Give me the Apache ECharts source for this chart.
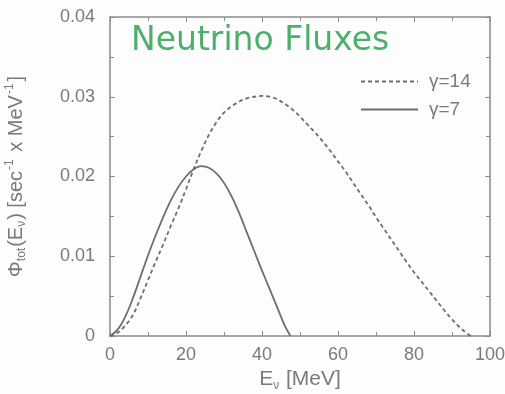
<!DOCTYPE html>
<html>
<head>
<meta charset="utf-8">
<script src="https://cdn.jsdelivr.net/npm/echarts@6/dist/echarts.min.js"></script>
<style>
  html, body { margin: 0; padding: 0; background: #fff; }
  #chart { width: 505px; height: 394px; }
</style>
</head>
<body>
<div id="chart"></div>
<script>
// Neutrino energy (MeV) and flux values for each boost factor
const energyG14 = [0, 2, 4, 6, 8, 10, 12, 14, 16, 18, 20, 22, 24, 26, 28, 30, 32, 34, 36, 38, 40, 42, 44, 46, 48, 50,
  52, 54, 56, 58, 60, 62, 64, 66, 68, 70, 72, 74, 76, 78, 80, 82, 84, 86, 88, 90, 92, 94, 95];
const fluxG14 = [0, 0.0004, 0.0013, 0.0026, 0.0047, 0.0070, 0.0093, 0.0115, 0.0138, 0.0160, 0.0184, 0.0209, 0.0232,
  0.0252, 0.0268, 0.0280, 0.0288, 0.0294, 0.0298, 0.0300, 0.0301, 0.0300, 0.0297, 0.0291, 0.0284, 0.0275,
  0.0265, 0.0255, 0.0244, 0.0232, 0.0219, 0.0206, 0.0192, 0.0178, 0.0164, 0.0149, 0.0135, 0.0121, 0.0107,
  0.0093, 0.0080, 0.0068, 0.0056, 0.0044, 0.0032, 0.0021, 0.0011, 0.0003, 0];

const energyG7 = [0, 2, 4, 6, 8, 10, 12, 14, 16, 18, 20, 22, 24, 26, 28, 30, 32, 34, 36, 38, 40, 42, 44, 46, 47.5];
const fluxG7 = [0, 0.0008, 0.0024, 0.0047, 0.0074, 0.0101, 0.0126, 0.0149, 0.0170, 0.0187, 0.0200, 0.0209, 0.0213,
  0.0211, 0.0204, 0.0192, 0.0175, 0.0154, 0.0130, 0.0106, 0.0082, 0.0059, 0.0036, 0.0013, 0];

const seriesNames = ['\u03b3=14', '\u03b3=7'];
const xTicks = { min: 0, max: 100, interval: 20 };
const yTicks = { min: 0, max: 0.04, interval: 0.01 };

const pair = (xs, ys) => xs.map((x, i) => [x, ys[i]]);

const axisColor = '#8a8a8a';
const textColor = '#7a7a7a';
const lineColor = '#6e6e6e';
const fontFamily = '"Liberation Sans", Arial, sans-serif';

// Every side of the frame carries inward major and minor ticks
const frameAxis = (extra) => Object.assign({
  axisLine: { show: true, onZero: false, lineStyle: { color: axisColor, width: 1.5 } },
  axisTick: { show: true, inside: true, length: 5, lineStyle: { color: axisColor } },
  minorTick: { show: true, splitNumber: 2, length: 4, lineStyle: { color: axisColor } },
  splitLine: { show: false }
}, extra);

const chart = echarts.init(document.getElementById('chart'));
chart.setOption({
  backgroundColor: '#fdfdfd',
  animation: false,
  grid: { left: 110, right: 15, top: 17, bottom: 58, outerBoundsMode: 'none', containLabel: false },
  title: {
    text: 'Neutrino Fluxes',
    left: 126, top: 20,
    textStyle: { color: '#4caf6a', fontSize: 33, fontWeight: 'normal', fontFamily: '"DejaVu Sans", sans-serif' }
  },
  legend: {
    orient: 'vertical',
    left: 355, top: 67,
    itemWidth: 57, itemHeight: 18, itemGap: 9,
    data: seriesNames,
    itemStyle: { opacity: 0, color: 'transparent', borderWidth: 0 },
    textStyle: { color: textColor, fontSize: 19, fontFamily: fontFamily, padding: [0, 0, 0, 6] }
  },
  xAxis: [
    frameAxis({
      type: 'value', min: xTicks.min, max: xTicks.max, interval: xTicks.interval,
      name: '{n|E}{s|\u03bd}{n| [MeV]}', nameLocation: 'middle', nameGap: 30,
      nameTextStyle: {
        rich: {
          n: { fontSize: 21, color: textColor, fontFamily: fontFamily },
          s: { fontSize: 12, color: textColor, fontFamily: fontFamily, padding: [12, 1, 0, 0] }
        }
      },
      axisLabel: { color: textColor, fontSize: 18, fontFamily: fontFamily, margin: 10 }
    }),
    frameAxis({
      type: 'value', position: 'top', min: xTicks.min, max: xTicks.max, interval: xTicks.interval,
      axisLabel: { show: false }
    })
  ],
  yAxis: [
    frameAxis({
      type: 'value', min: yTicks.min, max: yTicks.max, interval: yTicks.interval,
      name: '{n|\u03a6}{s|tot}{n|(E}{s|\u03bd}{n|) [sec}{u|-1}{n| x MeV}{u|-1}{n|]}',
      nameLocation: 'middle', nameGap: 82, nameRotate: 90,
      nameTextStyle: {
        rich: {
          n: { fontSize: 20, color: textColor, fontFamily: fontFamily },
          s: { fontSize: 12, color: textColor, fontFamily: fontFamily, padding: [12, 1, 0, 0] },
          u: { fontSize: 12, color: textColor, fontFamily: fontFamily, padding: [0, 2, 12, 1] }
        }
      },
      axisLabel: {
        color: textColor, fontSize: 18, fontFamily: fontFamily, margin: 15,
        formatter: v => (v === 0 ? '0' : v.toFixed(2))
      }
    }),
    frameAxis({
      type: 'value', position: 'right', min: yTicks.min, max: yTicks.max, interval: yTicks.interval,
      axisLabel: { show: false }
    })
  ],
  series: [
    {
      name: seriesNames[0], type: 'line', data: pair(energyG14, fluxG14),
      smooth: 0.35, showSymbol: false, symbol: 'none',
      lineStyle: { color: lineColor, width: 1.8, type: [4, 3] },
      itemStyle: { color: lineColor }
    },
    {
      name: seriesNames[1], type: 'line', data: pair(energyG7, fluxG7),
      smooth: 0.35, showSymbol: false, symbol: 'none',
      lineStyle: { color: lineColor, width: 1.8 },
      itemStyle: { color: lineColor }
    }
  ]
});
</script>
</body>
</html>
